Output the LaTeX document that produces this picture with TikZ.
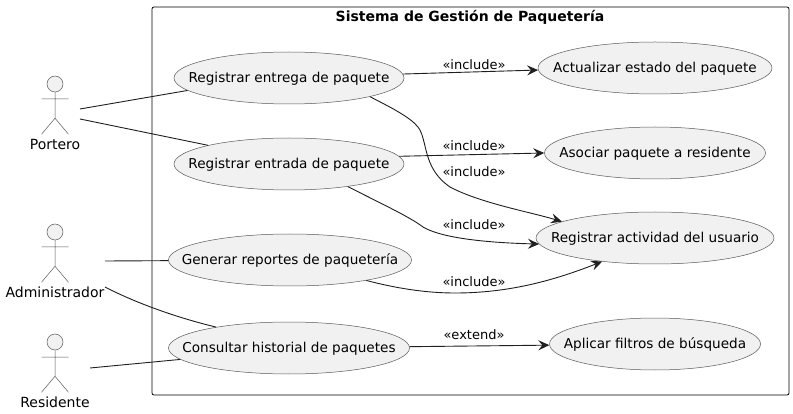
\documentclass[tikz,border=0pt]{standalone}
\usepackage{fontspec}
\setmainfont{DejaVu Sans}
\usetikzlibrary{shapes.geometric,arrows.meta}
\newcommand{\uctext}[1]{\makebox[0pt]{\smash{\raisebox{-5pt}{#1}}}}

\begin{document}
\begin{tikzpicture}[x=1pt, y=-1pt, >={Stealth[length=11pt,width=10pt,inset=4pt]},
  usecase/.style={draw=black!65, line width=0.5pt, fill=black!5.5, ellipse, inner sep=0pt, minimum height=52pt, font=\fontsize{13.6}{15}\selectfont},
  actorlabel/.style={font=\fontsize{14}{16}\selectfont, inner sep=0pt},
  rel/.style={font=\fontsize{13}{15}\selectfont, inner sep=0pt},
  link/.style={line width=0.9pt, black!88}]

  \useasboundingbox (0,0) rectangle (793,414);

  % Frame
  \draw[line width=0.75pt, rounded corners=2pt] (152,7) rectangle (789,395);
  \node[font=\bfseries\fontsize{14}{16}\selectfont, inner sep=0pt] (title) at (470,17.5) {Sistema de Gestión de Paquetería};

  % Actors
  \foreach \name/\label/\px/\py in {portero/Portero/55/84, administrador/Administrador/55/232, residente/Residente/55/342} {
    \node[circle, draw=black!65, line width=0.5pt, fill=black!5.5, minimum size=16pt, inner sep=0pt] (\name) at (\px,\py) {};
    \draw[black!65, line width=0.5pt] (\name.south) -- ++(0,26) coordinate (\name hip)
      -- ++(-13.5,16) (\name hip) -- ++(13.5,16)
      (\px-13.5,\py+15) -- (\px+13.5,\py+15);
    \node[actorlabel] (\name label) at (\px,\py+60) {\label};
  }

  % Free ends next to the actors
  \coordinate (porteroA) at (80,109);
  \coordinate (porteroB) at (80,119);
  \coordinate (adminA) at (105,261);
  \coordinate (adminB) at (105,287);
  \coordinate (residenteA) at (90,368);

  % Use cases
  \node[usecase, minimum width=230pt] (entrega) at (289,78) {\uctext{Registrar entrega de paquete}};
  \node[usecase, minimum width=230pt] (entrada) at (289,164) {\uctext{Registrar entrada de paquete}};
  \node[usecase, minimum width=243pt] (reportes) at (290,260) {\uctext{Generar reportes de paquetería}};
  \node[usecase, minimum width=241pt] (consultar) at (289,348) {\uctext{Consultar historial de paquetes}};
  \node[usecase, minimum width=234pt] (estado) at (655,68) {\uctext{Actualizar estado del paquete}};
  \node[usecase, minimum width=221pt] (asociar) at (655,153) {\uctext{Asociar paquete a residente}};
  \node[usecase, minimum width=238pt] (actividad) at (655,238) {\uctext{Registrar actividad del usuario}};
  \node[usecase, minimum width=211pt] (filtros) at (655,344) {\uctext{Aplicar filtros de búsqueda}};

  % Actor links
  \draw[link] (porteroA) -- (entrega.187);
  \draw[link] (porteroB) -- (entrada.167);
  \draw[link] (adminA) -- (reportes);
  \draw[link] (adminB) .. controls (130,300) and (170,316) .. (consultar.164);
  \draw[link] (residenteA) -- (consultar.186);

  % Include and extend
  \draw[link, ->] (entrega.2) -- (estado.181);
  \draw[link, ->] (entrada.4) -- (asociar.180);
  \draw[link, ->] (consultar) -- (filtros);
  \draw[link, ->] (entrega.-13) .. controls (390,107) and (410,117) .. (418,127)
    .. controls (428,140) and (422,168) .. (450,187)
    .. controls (480,203) and (530,212) .. (actividad.170);
  \draw[link, ->] (entrada.-21) .. controls (380,203) and (410,217) .. (423,227)
    .. controls (445,240) and (500,243) .. (actividad.183);
  \draw[link, ->] (reportes.-15) .. controls (395,288) and (425,293) .. (455,293)
    .. controls (510,293) and (555,280) .. (actividad.-156);

  % Labels
  \node[rel] (relA) at (474,65) {«include»};
  \node[rel] (relB) at (474,146) {«include»};
  \node[rel] (relC) at (474,172) {«include»};
  \node[rel] (relD) at (474,225) {«include»};
  \node[rel] (relE) at (474,282) {«include»};
  \node[rel] (relF) at (474,335) {«extend»};

\end{tikzpicture}
\end{document}
